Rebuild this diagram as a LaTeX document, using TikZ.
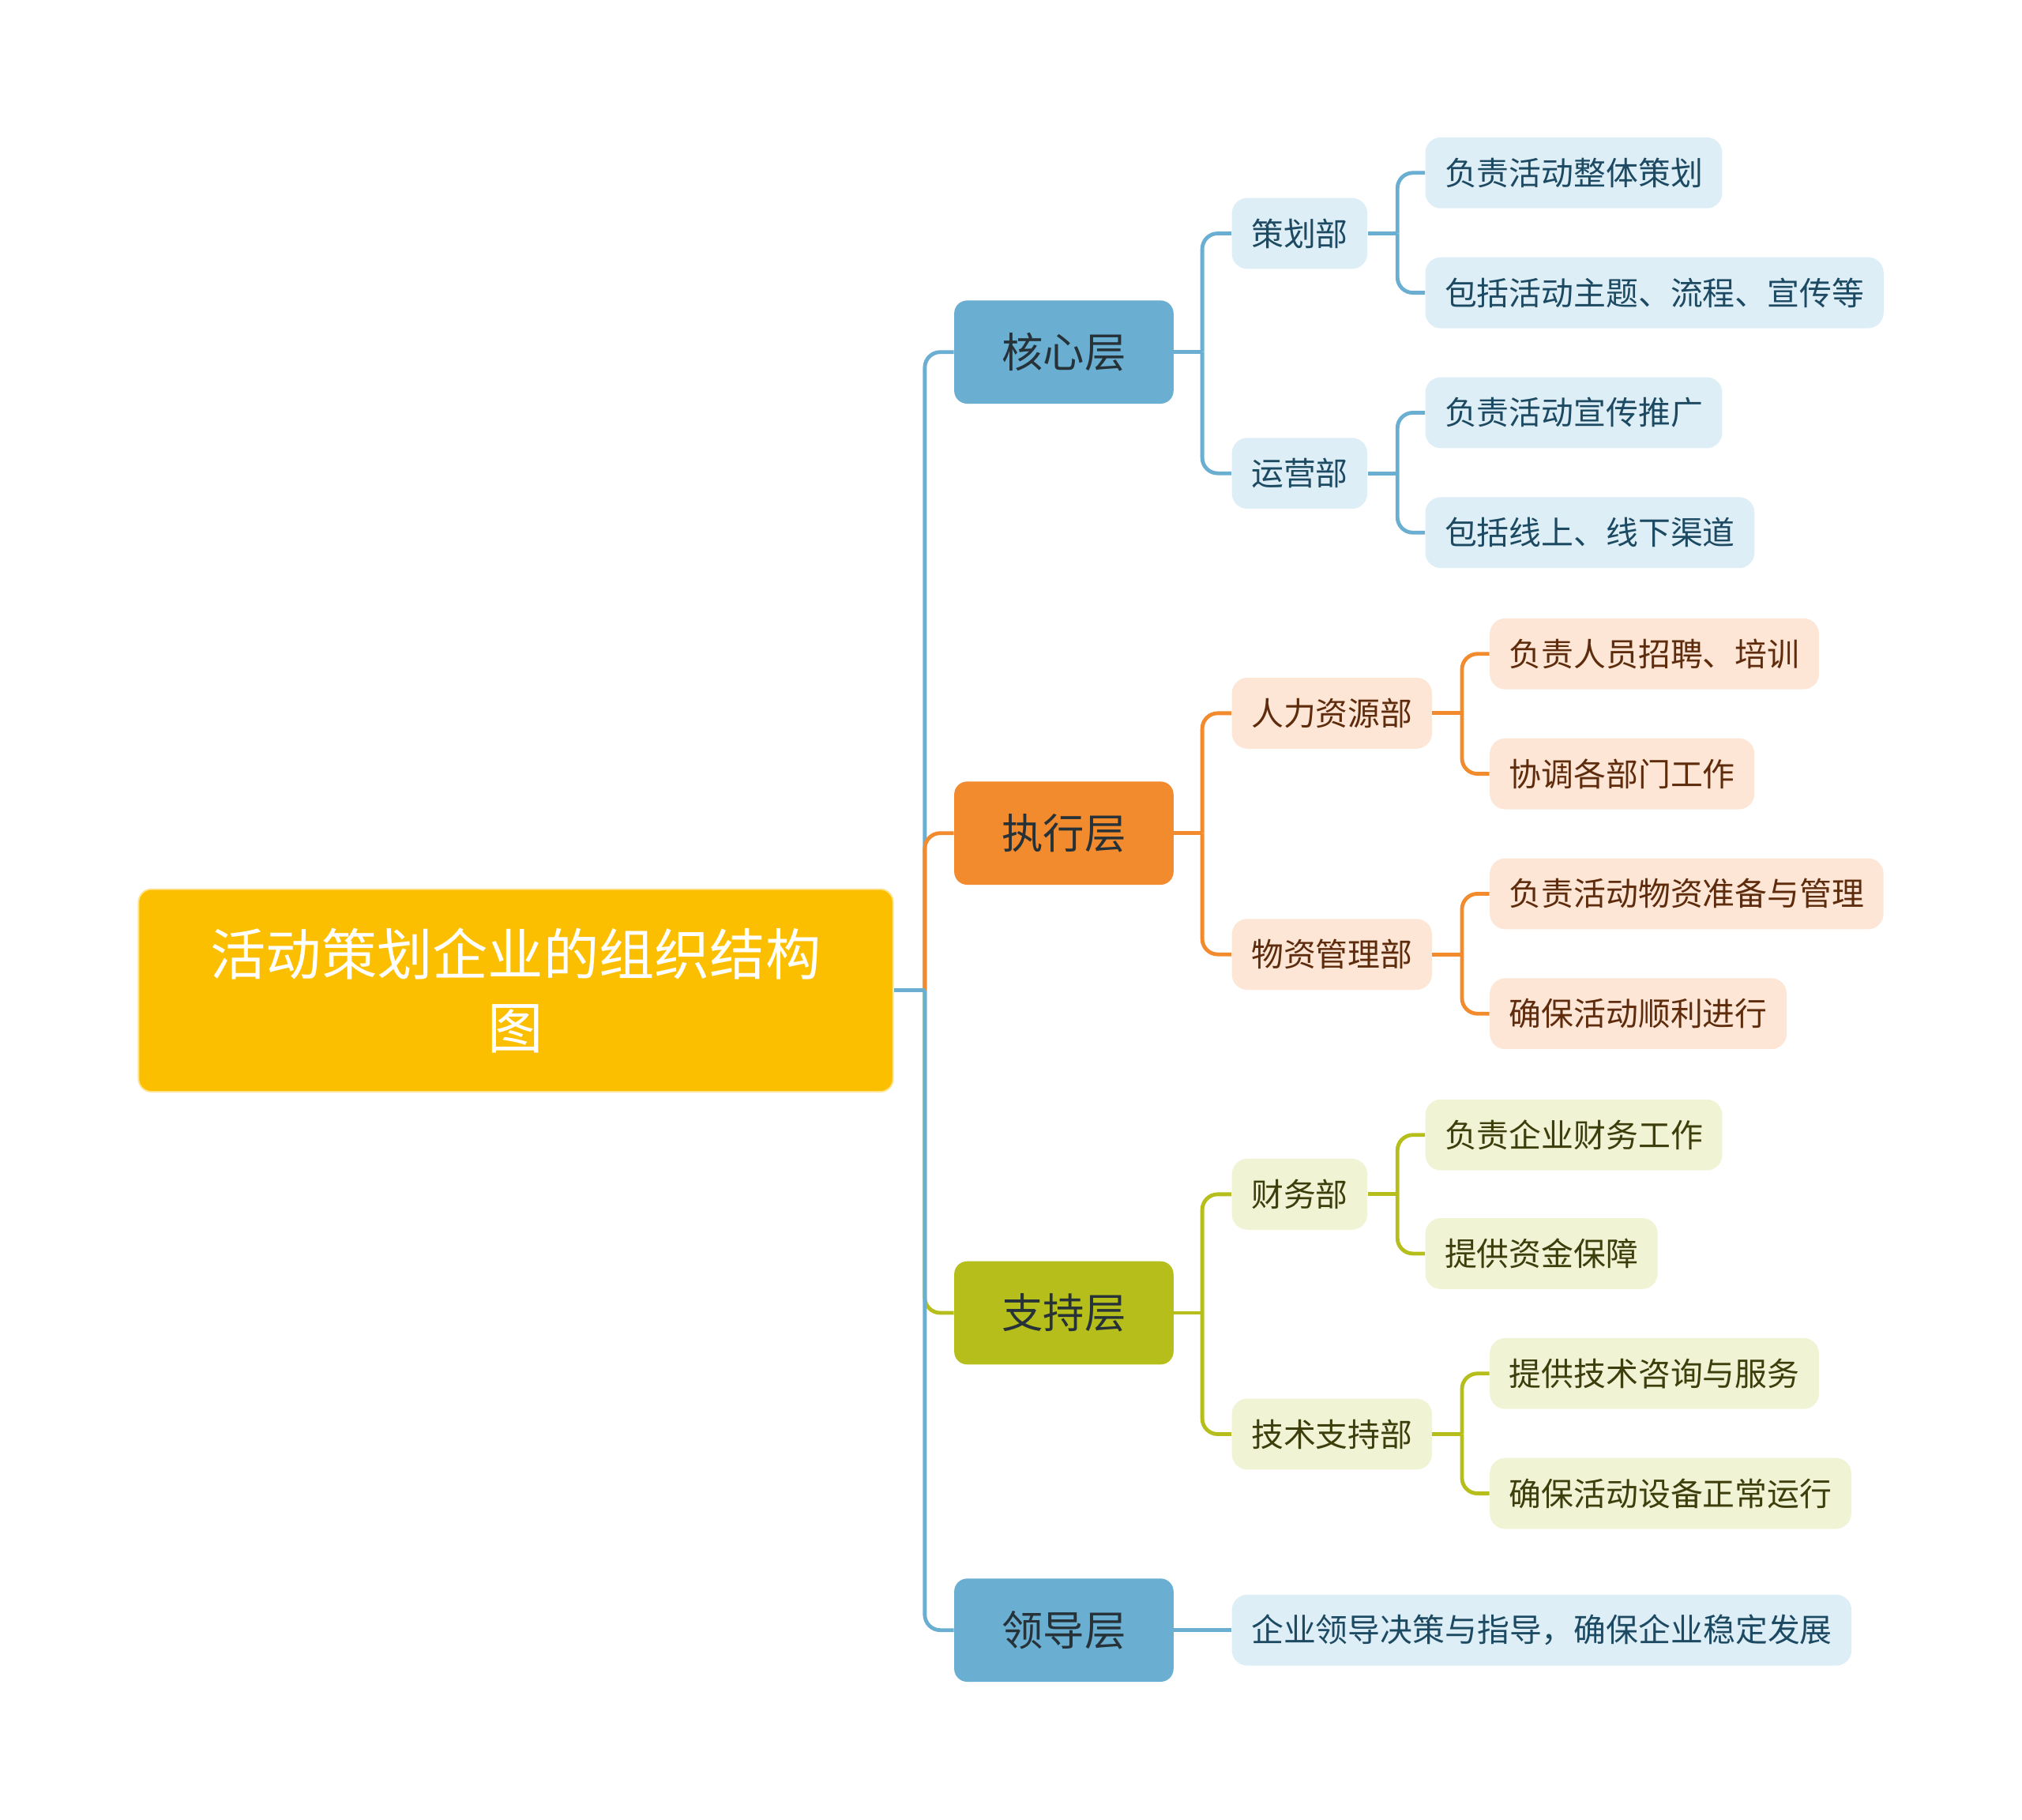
\documentclass[tikz,border=0pt]{standalone}
\usepackage{fontspec}
\setmainfont{Noto Sans CJK SC}
\usetikzlibrary{positioning,calc}
\definecolor{rootfill}{HTML}{FCBF00}
\definecolor{corefill}{HTML}{6AAED1}
\definecolor{execfill}{HTML}{F28A2E}
\definecolor{suppfill}{HTML}{B6BE1B}
\definecolor{corelight}{HTML}{DEEEF6}
\definecolor{execlight}{HTML}{FDE6D5}
\definecolor{supplight}{HTML}{F1F3D5}
\definecolor{coretext}{HTML}{1D4A63}
\definecolor{exectext}{HTML}{5E2C0C}
\definecolor{supptext}{HTML}{3C3E0C}
\definecolor{layertext}{HTML}{263238}

\begin{document}
\begin{tikzpicture}[x=0.025cm, y=-0.025cm,
root node/.style={rectangle,rounded corners=0.25cm,fill=rootfill,draw=rootfill!45!white,line width=0.8pt,text=white,minimum width=14.625cm,minimum height=3.925cm,align=center,font=\fontsize{30.6}{40.5}\selectfont},
layer node/.style={rectangle,rounded corners=0.25cm,minimum width=4.25cm,minimum height=2cm,text=layertext,font=\fontsize{22.8}{27}\selectfont},
item node/.style={rectangle,rounded corners=0.3cm,anchor=west,inner xsep=0.375cm,minimum height=1.375cm,font=\fontsize{17.8}{21}\selectfont},
core box/.style={item node,fill=corelight,text=coretext},
exec box/.style={item node,fill=execlight,text=exectext},
supp box/.style={item node,fill=supplight,text=supptext},
link/.style={line width=2.1pt,rounded corners=0.3cm}]
\useasboundingbox (0,0) rectangle (1568,1411);
\begin{scope}
\node[root node] (root) at (400,768) {活动策划企业的组织结构\\图};
\node[layer node,fill=corefill] (core) at (825,273) {核心层};
\node[layer node,fill=execfill] (exec) at (825,646) {执行层};
\node[layer node,fill=suppfill] (supp) at (825,1018) {支持层};
\node[layer node,fill=corefill] (lead) at (825,1264) {领导层};
% departments
\node[core box] (plan) at (955,181) {策划部};
\node[core box] (oper) at (955,367) {运营部};
\node[exec box] (hr) at (955,553) {人力资源部};
\node[exec box] (supply) at (955,740) {物资管理部};
\node[supp box] (fin) at (955,926) {财务部};
\node[supp box] (tech) at (955,1112) {技术支持部};
\node[core box] (lead1) at (955,1264) {企业领导决策与指导，确保企业稳定发展};
% duties
\node[core box] (plan1) at (1105,134) {负责活动整体策划};
\node[core box] (plan2) at (1105,227) {包括活动主题、流程、宣传等};
\node[core box] (oper1) at (1105,320) {负责活动宣传推广};
\node[core box] (oper2) at (1105,413) {包括线上、线下渠道};
\node[exec box] (hr1) at (1155,507) {负责人员招聘、培训};
\node[exec box] (hr2) at (1155,600) {协调各部门工作};
\node[exec box] (supply1) at (1155,693) {负责活动物资准备与管理};
\node[exec box] (supply2) at (1155,786) {确保活动顺利进行};
\node[supp box] (fin1) at (1105,880) {负责企业财务工作};
\node[supp box] (fin2) at (1105,972) {提供资金保障};
\node[supp box] (tech1) at (1155,1065) {提供技术咨询与服务};
\node[supp box] (tech2) at (1155,1158) {确保活动设备正常运行};
% junctions
\coordinate (root-j) at ($(root.east)+(24,0)$);
\coordinate (core-j) at ($(core.east)+(22,0)$);
\coordinate (exec-j) at ($(exec.east)+(22,0)$);
\coordinate (supp-j) at ($(supp.east)+(22,0)$);
\coordinate (plan-j) at ($(plan.east)+(23,0)$);
\coordinate (oper-j) at ($(oper.east)+(23,0)$);
\coordinate (hr-j) at ($(hr.east)+(23,0)$);
\coordinate (supply-j) at ($(supply.east)+(23,0)$);
\coordinate (fin-j) at ($(fin.east)+(23,0)$);
\coordinate (tech-j) at ($(tech.east)+(23,0)$);
\end{scope}
\begin{scope}[link]
\draw[corefill] (root-j) |- (core.west);
\draw[execfill] (root-j) |- (exec.west);
\draw[suppfill] (root-j) |- (supp.west);
\draw[corefill] (root-j) |- (lead.west);
\draw[corefill] (root.east) -- (root-j);
\draw[corefill] (core.east) -- (core-j);
\draw[corefill] (core-j) |- (plan.west);
\draw[corefill] (core-j) |- (oper.west);
\draw[execfill] (exec.east) -- (exec-j);
\draw[execfill] (exec-j) |- (hr.west);
\draw[execfill] (exec-j) |- (supply.west);
\draw[suppfill] (supp.east) -- (supp-j);
\draw[suppfill] (supp-j) |- (fin.west);
\draw[suppfill] (supp-j) |- (tech.west);
\draw[corefill] (lead.east) -- (lead1.west);
\draw[corefill] (plan.east) -- (plan-j);
\draw[corefill] (plan-j) |- (plan1.west);
\draw[corefill] (plan-j) |- (plan2.west);
\draw[corefill] (oper.east) -- (oper-j);
\draw[corefill] (oper-j) |- (oper1.west);
\draw[corefill] (oper-j) |- (oper2.west);
\draw[execfill] (hr.east) -- (hr-j);
\draw[execfill] (hr-j) |- (hr1.west);
\draw[execfill] (hr-j) |- (hr2.west);
\draw[execfill] (supply.east) -- (supply-j);
\draw[execfill] (supply-j) |- (supply1.west);
\draw[execfill] (supply-j) |- (supply2.west);
\draw[suppfill] (fin.east) -- (fin-j);
\draw[suppfill] (fin-j) |- (fin1.west);
\draw[suppfill] (fin-j) |- (fin2.west);
\draw[suppfill] (tech.east) -- (tech-j);
\draw[suppfill] (tech-j) |- (tech1.west);
\draw[suppfill] (tech-j) |- (tech2.west);
\end{scope}
\end{tikzpicture}
\end{document}
